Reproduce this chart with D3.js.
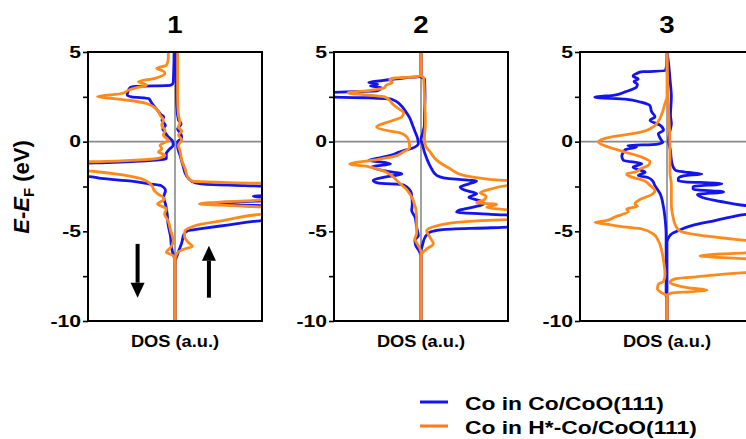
<!DOCTYPE html>
<html>
<head>
<meta charset="utf-8">
<script src="https://cdn.jsdelivr.net/npm/d3@7"></script>
<style>
body { margin: 0; background: #fff; }
svg { display: block; font-family: "Liberation Sans", Arial, sans-serif; }
</style>
</head>
<body>
<div class="chart"></div>
<script>
// energy ticks (eV) and titles
const energyTicks = [5, 2.5, 0, -2.5, -5, -7.5, -10]
const panelTitles = ["1", "2", "3"]
const seriesNames = ["Co in Co/CoO(111)", "Co in H*-Co/CoO(111)"]

// each point is [E - EF, DOS] ; spin down is negative DOS
const p1BlueDn = [[5, -0.01], [3.3, -0.02], [3.15, -0.05], [3.08, -0.45], [3.0, -0.52], [2.8, -0.54], [2.6, -0.55], [2.5, -0.5], [2.4, -0.3], [2.25, -0.28], [2.1, -0.26], [1.75, -0.2], [1.5, -0.16], [1.38, -0.13], [1.2, -0.15], [0.92, -0.11], [0.7, -0.14], [0.55, -0.12], [0.28, -0.08], [0.05, -0.03], [-0.2, -0.02], [-0.4, -0.06], [-0.67, -0.1], [-0.95, -0.1], [-1.05, -0.3], [-1.15, -0.7], [-1.25, -1.2], [-1.9, -1.2], [-1.95, -0.98], [-2.05, -0.85], [-2.2, -0.5], [-2.35, -0.3], [-2.45, -0.16], [-2.72, -0.11], [-3.1, -0.13], [-3.47, -0.11], [-4.03, -0.09], [-4.6, -0.08], [-5.33, -0.05], [-5.9, -0.04], [-6.3, -0.02], [-6.64, 0], [-10, 0]]
const p1BlueUp = [[5, 0.01], [3.3, 0.015], [2.0, 0.02], [1.2, 0.04], [1.0, 0.07], [0.7, 0.03], [0.4, 0.07], [0.2, 0.077], [0.0, 0.03], [-0.3, 0.03], [-0.75, 0.057], [-1.3, 0.09], [-1.88, 0.13], [-2.2, 0.19], [-2.35, 0.3], [-2.45, 0.8], [-2.52, 1.2], [-2.95, 1.2], [-3.05, 0.9], [-3.15, 1.2], [-3.3, 1.0], [-3.4, 0.5], [-3.5, 0.55], [-3.6, 1.2], [-4.3, 1.2], [-4.45, 0.9], [-4.65, 0.6], [-4.85, 0.3], [-4.96, 0.15], [-5.2, 0.1], [-5.6, 0.08], [-6.0, 0.05], [-6.4, 0.02], [-6.7, 0], [-10, 0]]
const p1OrangeDn = [[5, -0.077], [4.65, -0.077], [4.27, -0.096], [4.09, -0.21], [3.95, -0.14], [3.81, -0.115], [3.53, -0.23], [3.34, -0.42], [3.15, -0.326], [3.0, -0.45], [2.87, -0.536], [2.7, -0.6], [2.5, -0.89], [2.4, -0.7], [2.31, -0.536], [2.13, -0.326], [1.76, -0.2], [1.48, -0.172], [1.2, -0.134], [0.92, -0.153], [0.63, -0.115], [0.36, -0.134], [0.08, -0.077], [-0.2, -0.172], [-0.4, -0.15], [-0.58, -0.19], [-0.76, -0.115], [-0.9, -0.17], [-1.0, -0.35], [-1.1, -0.8], [-1.15, -1.2], [-1.55, -1.2], [-1.65, -0.95], [-1.85, -0.6], [-2.05, -0.4], [-2.25, -0.31], [-2.5, -0.26], [-2.72, -0.24], [-2.9, -0.2], [-3.2, -0.12], [-3.47, -0.2], [-3.75, -0.1], [-4.03, -0.12], [-4.4, -0.08], [-4.96, -0.05], [-5.52, -0.02], [-5.9, -0.05], [-6.16, -0.1], [-6.35, -0.02], [-6.64, 0], [-10, 0]]
const p1OrangeUp = [[5, 0.03], [2.5, 0.03], [1.5, 0.04], [1.05, 0.057], [0.8, 0.04], [0.6, 0.077], [0.37, 0.04], [0.1, 0.077], [-0.2, 0.04], [-0.56, 0.06], [-1.03, 0.077], [-1.5, 0.115], [-2.0, 0.15], [-2.2, 0.2], [-2.28, 0.6], [-2.35, 1.2], [-3.2, 1.2], [-3.3, 0.8], [-3.47, 0.28], [-3.6, 0.8], [-3.7, 1.2], [-3.95, 1.2], [-4.05, 0.98], [-4.4, 0.55], [-4.6, 0.3], [-4.8, 0.17], [-4.96, 0.115], [-5.3, 0.11], [-5.6, 0.15], [-5.85, 0.2], [-6.0, 0.1], [-6.25, 0.02], [-6.6, 0], [-10, 0]]

const p2BlueDn = [[5, 0], [3.65, 0], [3.55, -0.2], [3.4, -0.45], [3.3, -0.6], [3.2, -0.5], [3.1, -0.58], [3.0, -0.45], [2.85, -0.5], [2.7, -1.2], [2.5, -1.2], [2.45, -0.6], [2.35, -0.33], [2.07, -0.24], [1.7, -0.18], [1.33, -0.13], [0.96, -0.1], [0.58, -0.07], [0.19, -0.04], [-0.09, -0.03], [-0.37, -0.1], [-0.5, -0.2], [-0.6, -0.26], [-0.75, -0.34], [-0.9, -0.47], [-1.05, -0.6], [-1.15, -0.42], [-1.25, -0.35], [-1.4, -0.57], [-1.6, -0.45], [-1.8, -0.22], [-1.96, -0.4], [-2.15, -0.55], [-2.3, -0.5], [-2.42, -0.2], [-2.9, -0.11], [-3.47, -0.1], [-3.84, -0.107], [-4.2, -0.069], [-4.77, -0.05], [-5.24, -0.03], [-5.5, -0.07], [-5.8, -0.06], [-6.1, -0.02], [-6.4, 0], [-10, 0]]
const p2BlueUp = [[5, 0], [3.6, 0], [3.5, 0.04], [2.5, 0.046], [1.5, 0.04], [0.96, 0.04], [0.5, 0.02], [0.1, 0.0], [-0.2, 0.02], [-0.37, 0.027], [-0.93, 0.065], [-1.5, 0.12], [-1.88, 0.18], [-2.05, 0.3], [-2.2, 0.64], [-2.35, 0.55], [-2.53, 0.45], [-2.7, 0.5], [-2.9, 0.64], [-3.1, 0.55], [-3.3, 0.68], [-3.47, 0.72], [-3.65, 0.6], [-3.8, 0.45], [-3.93, 0.41], [-4.05, 0.8], [-4.15, 1.2], [-4.7, 1.2], [-4.8, 0.8], [-4.9, 0.25], [-5.05, 0.1], [-5.3, 0.05], [-5.7, 0.02], [-6.2, 0], [-10, 0]]
const p2OrangeDn = [[5, 0], [3.7, 0], [3.62, -0.05], [3.55, -0.3], [3.45, -0.36], [3.3, -0.33], [3.15, -0.4], [3.0, -0.42], [2.85, -0.6], [2.72, -0.84], [2.6, -0.6], [2.5, -0.42], [2.3, -0.36], [2.07, -0.32], [1.85, -0.26], [1.6, -0.2], [1.38, -0.22], [1.14, -0.35], [0.95, -0.47], [0.82, -0.51], [0.65, -0.42], [0.5, -0.25], [0.3, -0.17], [0.05, -0.14], [-0.33, -0.13], [-0.56, -0.2], [-0.84, -0.32], [-1.03, -0.55], [-1.25, -0.82], [-1.4, -0.6], [-1.6, -0.45], [-1.88, -0.34], [-2.16, -0.28], [-2.7, -0.16], [-3.26, -0.09], [-4.2, -0.05], [-5.1, -0.05], [-5.43, -0.07], [-5.8, -0.03], [-6.17, 0], [-10, 0]]
const p2OrangeUp = [[5, 0], [3.7, 0], [3.55, 0.03], [2.5, 0.04], [1.0, 0.05], [0.2, 0.04], [-0.2, 0.05], [-0.56, 0.103], [-1.03, 0.18], [-1.5, 0.33], [-1.88, 0.49], [-2.05, 0.7], [-2.15, 0.9], [-2.2, 1.2], [-2.35, 1.2], [-2.45, 0.985], [-2.65, 0.8], [-2.85, 0.68], [-3.05, 0.75], [-3.28, 0.716], [-3.4, 0.64], [-3.5, 0.87], [-3.65, 0.755], [-3.8, 1.0], [-3.9, 1.2], [-4.3, 1.2], [-4.4, 0.7], [-4.5, 0.41], [-4.7, 0.18], [-4.96, 0.065], [-5.33, 0.103], [-5.7, 0.142], [-5.98, 0.065], [-6.36, 0], [-10, 0]]

const p3BlueDn = [[5, 0], [4.3, -0.005], [3.95, -0.02], [3.9, -0.28], [3.8, -0.35], [3.65, -0.39], [3.5, -0.33], [3.35, -0.38], [3.2, -0.34], [3.05, -0.35], [2.78, -0.48], [2.6, -0.6], [2.47, -0.83], [2.37, -0.48], [2.2, -0.3], [2.0, -0.195], [1.66, -0.176], [1.38, -0.138], [1.2, -0.195], [0.92, -0.08], [0.63, -0.04], [0.45, -0.1], [0.2, -0.08], [-0.05, -0.05], [-0.15, -0.12], [-0.22, -0.45], [-0.3, -0.35], [-0.45, -0.48], [-0.58, -0.5], [-0.8, -0.52], [-1.04, -0.5], [-1.23, -0.29], [-1.42, -0.39], [-1.6, -0.3], [-1.7, -0.25], [-1.88, -0.33], [-2.0, -0.22], [-2.16, -0.17], [-2.44, -0.14], [-2.9, -0.08], [-3.66, -0.04], [-4.4, -0.02], [-5.2, -0.01], [-8.6, -0.01], [-8.7, 0], [-10, 0]]
const p3BlueUp = [[5, 0], [4.3, 0.02], [3.5, 0.034], [2.5, 0.05], [1.5, 0.04], [1.0, 0.05], [0.5, 0.03], [0.0, 0.02], [-0.5, 0.04], [-1.0, 0.05], [-1.4, 0.07], [-1.6, 0.1], [-1.72, 0.25], [-1.8, 0.4], [-1.9, 0.2], [-2.05, 0.13], [-2.2, 0.13], [-2.35, 0.63], [-2.5, 0.3], [-2.65, 0.3], [-2.8, 0.65], [-2.95, 0.35], [-3.1, 0.4], [-3.28, 0.55], [-3.45, 0.75], [-3.56, 0.9], [-3.7, 1.2], [-3.95, 1.2], [-4.05, 0.908], [-4.2, 0.743], [-4.4, 0.55], [-4.68, 0.284], [-4.96, 0.13], [-5.15, 0.05], [-5.33, 0.02], [-5.6, 0], [-10, 0]]
const p3OrangeDn = [[5, 0], [2.5, 0], [2.13, -0.023], [1.52, -0.061], [1.14, -0.1], [0.77, -0.176], [0.55, -0.291], [0.4, -0.45], [0.26, -0.65], [0.1, -0.76], [-0.02, -0.79], [-0.3, -0.674], [-0.58, -0.483], [-0.86, -0.291], [-1.13, -0.195], [-1.3, -0.21], [-1.5, -0.3], [-1.7, -0.37], [-1.8, -0.464], [-1.95, -0.42], [-2.16, -0.27], [-2.44, -0.195], [-2.72, -0.138], [-2.95, -0.176], [-3.2, -0.3], [-3.47, -0.368], [-3.6, -0.34], [-3.75, -0.464], [-3.9, -0.444], [-4.2, -0.6], [-4.4, -0.7], [-4.5, -0.828], [-4.6, -0.7], [-4.75, -0.5], [-4.87, -0.291], [-5.15, -0.157], [-5.52, -0.1], [-6.08, -0.061], [-6.64, -0.04], [-7.4, -0.023], [-7.8, -0.04], [-7.95, -0.1], [-8.2, -0.11], [-8.4, -0.07], [-8.6, 0], [-10, 0]]
const p3OrangeUp = [[5, 0], [2.5, 0.01], [1.5, 0.02], [0.5, 0.03], [-0.5, 0.034], [-1.7, 0.034], [-2.4, 0.05], [-3.5, 0.05], [-4.2, 0.07], [-4.6, 0.092], [-4.96, 0.14], [-5.2, 0.35], [-5.4, 0.7], [-5.52, 0.95], [-5.6, 1.2], [-6.1, 1.2], [-6.2, 0.9], [-6.3, 0.5], [-6.37, 0.38], [-6.45, 0.6], [-6.55, 1.0], [-6.6, 1.2], [-7.2, 1.2], [-7.3, 0.9], [-7.45, 0.5], [-7.55, 0.3], [-7.65, 0.092], [-7.85, 0.034], [-8.0, 0.1], [-8.15, 0.25], [-8.28, 0.46], [-8.36, 0.3], [-8.45, 0.05], [-8.6, 0], [-10, 0]]

const panels = [
	{ title: panelTitles[0], blue: [p1BlueDn, p1BlueUp], orange: [p1OrangeDn, p1OrangeUp] },
	{ title: panelTitles[1], blue: [p2BlueDn, p2BlueUp], orange: [p2OrangeDn, p2OrangeUp] },
	{ title: panelTitles[2], blue: [p3BlueDn, p3BlueUp], orange: [p3OrangeDn, p3OrangeUp] }
]

const svgWidth = 746
const svgHeight = 439

const blue = "#1414ee"
const orange = "#ff8a1c"

let margin = { top: 52, left: 88 }
const panelWidth = 174
const panelHeight = 269
const panelStep = 246

let svg = d3.select(".chart")
	.append("svg")
	.attr("width", svgWidth)
	.attr("height", svgHeight)

let y = d3.scaleLinear()
	.domain([-10, 5])
	.range([margin.top + panelHeight, margin.top])

// the original picture is a bit wider than tall, so stretch text to fit
function stretch(sel, k) {
	sel.each(function() {
		let w = this.getComputedTextLength()
		d3.select(this)
			.attr("textLength", w * k)
			.attr("lengthAdjust", "spacingAndGlyphs")
	})
}

panels.forEach((p, i) => {
	let left = margin.left + i * panelStep
	let x = d3.scaleLinear()
		.domain([-1, 1])
		.range([left, left + panelWidth])

	// energies go down monotonically, so a monotone curve in y smooths the peaks
	let line = d3.line()
		.x(d => x(d[1]))
		.y(d => y(d[0]))
		.curve(d3.curveMonotoneY)

	let g = svg.append("g")

	g.append("clipPath")
		.attr("id", "clip" + i)
		.append("rect")
		.attr("x", left)
		.attr("y", margin.top)
		.attr("width", panelWidth)
		.attr("height", panelHeight)

	let plot = g.append("g").attr("clip-path", `url(#clip${i})`)

	plot.append("line")
		.attr("x1", left).attr("x2", left + panelWidth)
		.attr("y1", y(0)).attr("y2", y(0))
		.attr("stroke", "#8a8a8a")
		.attr("stroke-width", 1.6)

	plot.append("line")
		.attr("x1", x(0)).attr("x2", x(0))
		.attr("y1", y(5)).attr("y2", y(-10))
		.attr("stroke", "#8a8a8a")
		.attr("stroke-width", 1.6)

	plot.selectAll(".blue")
		.data(p.blue)
		.enter()
		.append("path")
		.attr("d", line)
		.attr("fill", "none")
		.attr("stroke", blue)
		.attr("stroke-width", 2.8)
		.attr("stroke-linejoin", "round")

	plot.selectAll(".orange")
		.data(p.orange)
		.enter()
		.append("path")
		.attr("d", line)
		.attr("fill", "none")
		.attr("stroke", orange)
		.attr("stroke-width", 2.8)
		.attr("stroke-linejoin", "round")

	g.append("rect")
		.attr("x", left)
		.attr("y", margin.top)
		.attr("width", panelWidth)
		.attr("height", panelHeight)
		.attr("fill", "none")
		.attr("stroke", "#000")
		.attr("stroke-width", 2)

	let axis = g.append("g")
		.attr("transform", `translate(${left},0)`)
		.call(d3.axisLeft(y)
			.tickValues(energyTicks)
			.tickSize(5)
			.tickPadding(2)
			.tickFormat(d => d % 5 === 0 ? String(d) : ""))

	axis.select(".domain").remove()
	axis.selectAll(".tick line").attr("stroke", "#000").attr("stroke-width", 1.6)
	axis.selectAll(".tick text")
		.attr("fill", "#000")
		.attr("font-size", 16)
		.attr("font-weight", "bold")
		.attr("font-family", "Liberation Sans, Arial, sans-serif")
		.call(stretch, 1.32)

	g.append("text")
		.attr("x", x(0))
		.attr("y", 33)
		.attr("text-anchor", "middle")
		.attr("font-size", 24)
		.attr("font-weight", "bold")
		.text(p.title)
		.call(stretch, 1.15)

	g.append("text")
		.attr("x", x(0))
		.attr("y", 347)
		.attr("text-anchor", "middle")
		.attr("font-size", 16)
		.attr("font-weight", "bold")
		.text("DOS (a.u.)")
		.call(stretch, 1.14)

	// spin arrows only on the first panel
	if (i === 0) {
		let arrows = [
			{ dos: -0.43, from: -5.7, to: -8.7 },
			{ dos: 0.39, from: -8.7, to: -5.8 }
		]
		arrows.forEach(a => {
			let ax = x(a.dos)
			let y0 = y(a.from)
			let y1 = y(a.to)
			let dir = y1 > y0 ? 1 : -1
			let head = 15
			g.append("line")
				.attr("x1", ax).attr("x2", ax)
				.attr("y1", y0).attr("y2", y1 - dir * head)
				.attr("stroke", "#000")
				.attr("stroke-width", 4)
			g.append("path")
				.attr("d", `M${ax - 7},${y1 - dir * head}L${ax + 7},${y1 - dir * head}L${ax},${y1}Z`)
				.attr("fill", "#000")
		})
	}
})

// y axis label
let ylab = svg.append("text")
	.attr("transform", `translate(29,187) rotate(-90)`)
	.attr("text-anchor", "middle")
	.attr("font-size", 22)
	.attr("font-weight", "bold")

ylab.append("tspan").attr("font-style", "italic").text("E")
ylab.append("tspan").text("-")
ylab.append("tspan").attr("font-style", "italic").text("E")
ylab.append("tspan").attr("font-size", 15).attr("dy", 5).text("F")
ylab.append("tspan").attr("dy", -5).text(" (eV)")

// legend
let legend = svg.append("g")
	.attr("transform", "translate(420,402)")

legend.selectAll("g")
	.data(seriesNames)
	.enter()
	.append("g")
	.attr("transform", (d, i) => `translate(0, ${i * 24})`)
	.each(function(d, i) {
		let row = d3.select(this)
		row.append("line")
			.attr("x1", 0).attr("x2", 28)
			.attr("stroke", i === 0 ? blue : "#ff7a1c")
			.attr("stroke-width", 3)
		row.append("text")
			.attr("x", 45)
			.attr("y", 8)
			.attr("font-size", 19)
			.attr("font-weight", "bold")
			.text(d)
			.call(stretch, 1.2)
	})
</script>
</body>
</html>
